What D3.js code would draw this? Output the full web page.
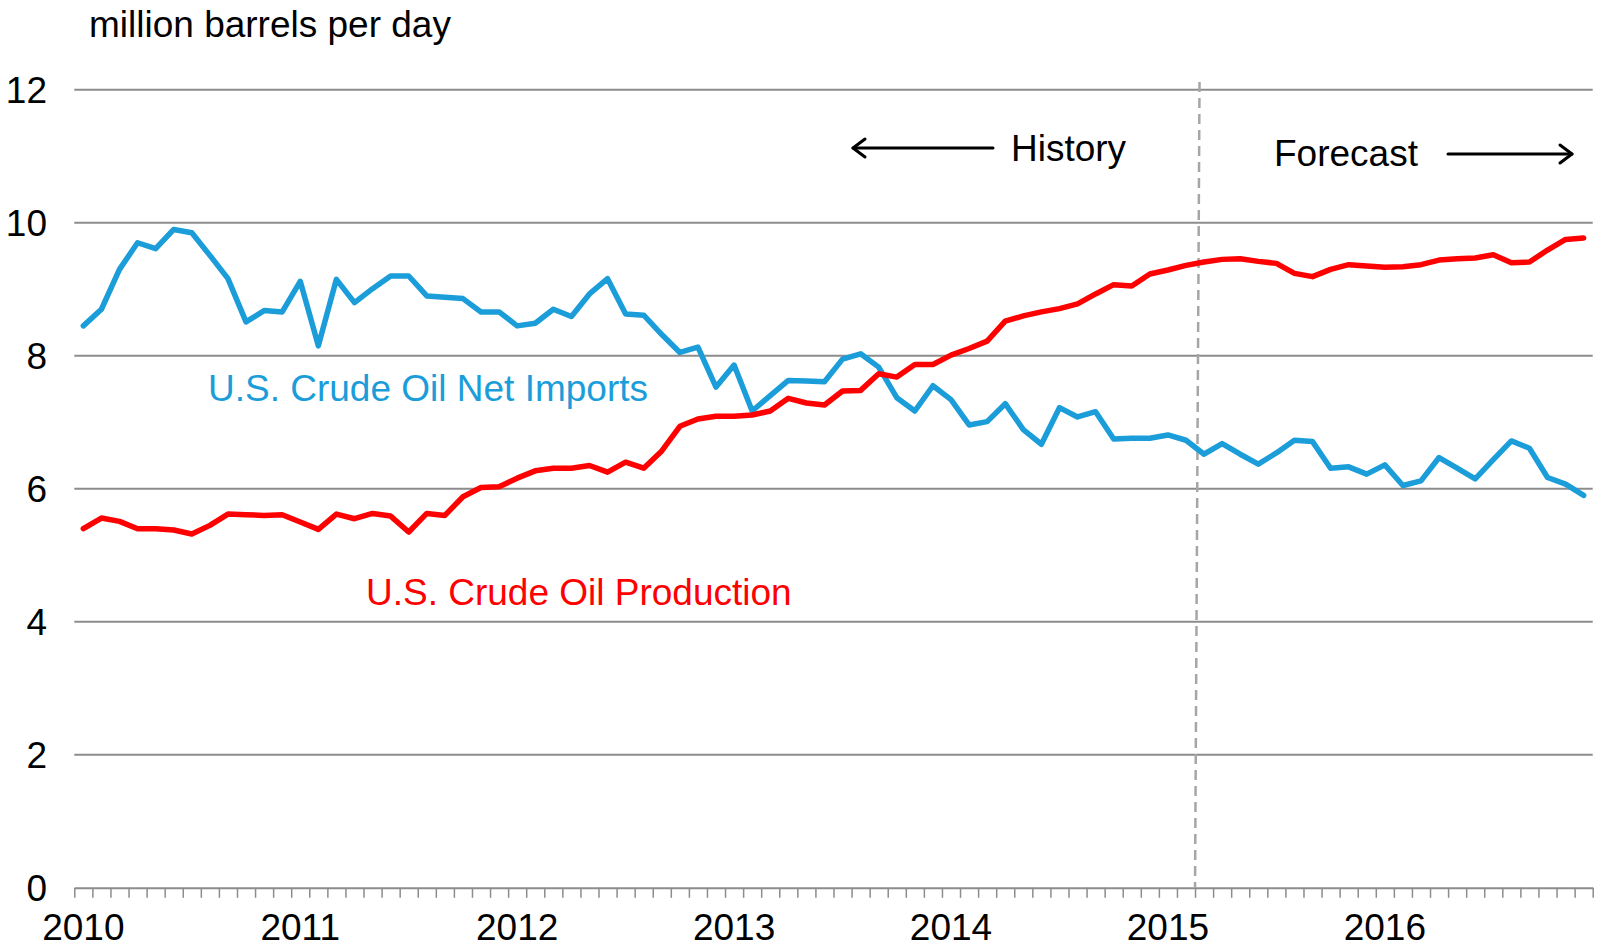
<!DOCTYPE html>
<html>
<head>
<meta charset="utf-8">
<script src="https://cdn.jsdelivr.net/npm/d3@7"></script>
<style>
	body { margin: 0; background: #fff; }
	svg { display: block; font-family: 'Liberation Sans', Arial, sans-serif; }
</style>
</head>
<body>
<svg id="chart"></svg>
<script>
// monthly values, Jan 2010 .. Dec 2016
let years = ['2010', '2011', '2012', '2013', '2014', '2015', '2016'];

let netImports = [
	8.45, 8.70, 9.30, 9.70, 9.61, 9.90, 9.85, 9.51, 9.16, 8.51, 8.68, 8.66,
	9.12, 8.15, 9.15, 8.80, 9.01, 9.20, 9.20, 8.90, 8.88, 8.86, 8.66, 8.66,
	8.45, 8.49, 8.70, 8.59, 8.93, 9.16, 8.63, 8.61, 8.32, 8.05, 8.13, 7.53,
	7.86, 7.17, 7.40, 7.63, 7.62, 7.61, 7.95, 8.03, 7.83, 7.37, 7.17, 7.55,
	7.34, 6.96, 7.01, 7.28, 6.89, 6.67, 7.22, 7.08, 7.16, 6.75, 6.76, 6.76,
	6.81, 6.73, 6.52, 6.68, 6.52, 6.37, 6.54, 6.73, 6.71, 6.31, 6.33, 6.22,
	6.36, 6.05, 6.12, 6.47, 6.31, 6.15, 6.44, 6.72, 6.61, 6.17, 6.07, 5.90
];

let production = [
	5.40, 5.56, 5.51, 5.40, 5.40, 5.38, 5.32, 5.45, 5.62, 5.61, 5.60, 5.61,
	5.50, 5.39, 5.62, 5.55, 5.63, 5.59, 5.35, 5.63, 5.60, 5.88, 6.02, 6.03,
	6.16, 6.27, 6.31, 6.31, 6.35, 6.25, 6.40, 6.31, 6.57, 6.94, 7.05, 7.09,
	7.09, 7.11, 7.17, 7.36, 7.29, 7.26, 7.47, 7.48, 7.73, 7.68, 7.87, 7.87,
	8.01, 8.11, 8.22, 8.52, 8.60, 8.66, 8.71, 8.78, 8.93, 9.07, 9.05, 9.23,
	9.29, 9.36, 9.41, 9.45, 9.46, 9.42, 9.39, 9.24, 9.19, 9.30, 9.37, 9.35,
	9.33, 9.34, 9.37, 9.44, 9.46, 9.47, 9.52, 9.40, 9.41, 9.59, 9.75, 9.77
];

let yTicks = [0, 2, 4, 6, 8, 10, 12];
let forecastStart = 62; // month index where the forecast begins

let width = 1600, height = 948;
let margin = { top: 89.8, right: 7.3, bottom: 60.2, left: 74.3 };
let nMonths = netImports.length;

let svg = d3.select('#chart')
	.attr('width', width)
	.attr('height', height);

let x = d3.scaleLinear()
	.domain([0, nMonths])
	.range([margin.left, width - margin.right]);

let y = d3.scaleLinear()
	.domain([0, 12])
	.range([height - margin.bottom, margin.top]);

let fs = 37;

// gridlines
svg.append('g')
	.selectAll('line')
	.data(yTicks.filter(d => d > 0))
	.enter()
	.append('line')
	.attr('x1', x(0))
	.attr('x2', x(nMonths))
	.attr('y1', d => y(d))
	.attr('y2', d => y(d))
	.style('stroke', '#8c8c8c')
	.style('stroke-width', 2);

// y labels
svg.append('g')
	.selectAll('text')
	.data(yTicks)
	.enter()
	.append('text')
	.attr('x', 47)
	.attr('y', d => y(d))
	.attr('dy', '0.36em')
	.attr('text-anchor', 'end')
	.style('font-size', fs + 'px')
	.text(d => d);

// x axis with a tick at every month boundary
let xAxis = d3.axisBottom(x)
	.tickValues(d3.range(0, nMonths + 1))
	.tickSize(10)
	.tickSizeOuter(0)
	.tickFormat('');

let gx = svg.append('g')
	.attr('transform', 'translate(0,' + y(0) + ')')
	.call(xAxis);
gx.select('.domain').style('stroke', '#8c8c8c').style('stroke-width', 2);
gx.selectAll('.tick line').style('stroke', '#8c8c8c').style('stroke-width', 1.5);

// year labels centred on january
svg.append('g')
	.selectAll('text')
	.data(years)
	.enter()
	.append('text')
	.attr('x', (d, i) => x(i * 12 + 0.5))
	.attr('y', 940)
	.attr('text-anchor', 'middle')
	.style('font-size', fs + 'px')
	.text(d => d);

// forecast divider
svg.append('line')
	.attr('x1', x(forecastStart) + 4.5)
	.attr('x2', x(forecastStart))
	.attr('y1', 82)
	.attr('y2', y(0))
	.style('stroke', '#a6a6a6')
	.style('stroke-width', 2.5)
	.style('stroke-dasharray', '10,6');

// series
let line = d3.line()
	.x((d, i) => x(i + 0.5))
	.y(d => y(d));

let series = [
	{ id: 'imports', values: netImports, color: '#1b9dd9' },
	{ id: 'production', values: production, color: '#ff0000' }
];

svg.selectAll('.series')
	.data(series)
	.enter()
	.append('path')
	.attr('class', d => 'series ' + d.id)
	.attr('d', d => line(d.values))
	.style('fill', 'none')
	.style('stroke', d => d.color)
	.style('stroke-width', 5.5)
	.style('stroke-linejoin', 'round')
	.style('stroke-linecap', 'round');

// labels
svg.append('text')
	.attr('x', 89)
	.attr('y', 37)
	.style('font-size', fs + 'px')
	.text('million barrels per day');

svg.append('text')
	.attr('x', 208)
	.attr('y', 401)
	.style('font-size', fs + 'px')
	.style('fill', '#1b9dd9')
	.text('U.S. Crude Oil Net Imports');

svg.append('text')
	.attr('x', 366)
	.attr('y', 605)
	.style('font-size', fs + 'px')
	.style('fill', '#ff0000')
	.text('U.S. Crude Oil Production');

svg.append('text')
	.attr('x', 1011)
	.attr('y', 161)
	.style('font-size', fs + 'px')
	.text('History');

svg.append('text')
	.attr('x', 1274)
	.attr('y', 166)
	.style('font-size', fs + 'px')
	.text('Forecast');

// arrows
function arrow(x1, x2, yy) {
	let dir = x2 > x1 ? 1 : -1;
	let g = svg.append('g')
		.style('stroke', '#000')
		.style('stroke-width', 3)
		.style('fill', 'none')
		.style('stroke-linecap', 'round')
		.style('stroke-linejoin', 'round');
	g.append('line').attr('x1', x1).attr('x2', x2).attr('y1', yy).attr('y2', yy);
	g.append('path')
		.attr('d', 'M' + (x2 - dir * 12) + ',' + (yy - 9) + 'L' + x2 + ',' + yy + 'L' + (x2 - dir * 12) + ',' + (yy + 9));
}
arrow(993, 853, 148);
arrow(1448, 1572, 154);
</script>
</body>
</html>
